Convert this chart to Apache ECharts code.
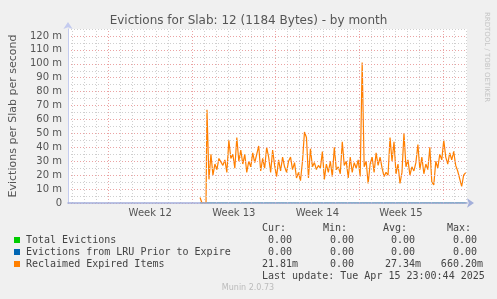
<!DOCTYPE html>
<html>
<head>
<meta charset="utf-8">
<script src="https://cdn.jsdelivr.net/npm/echarts@6/dist/echarts.min.js"></script>
<style>
html,body{margin:0;padding:0;background:#f0f0f0;}
#c{width:497px;height:299px;}
</style>
</head>
<body>
<div id="c"></div>
<script>
// ---- data ----
var title = 'Evictions for Slab: 12 (1184 Bytes) - by month';
var yAxisTitle = 'Evictions per Slab per second';
var weekLabels = ['Week 12', 'Week 13', 'Week 14', 'Week 15'];
var weekMidDays = [3.5, 10.5, 17.5, 24.5];          // days since Mon Mar 17 2025
var weekStartDays = [0, 7, 14, 21, 28];
var dayLines = [-3,-2,-1,1,2,3,4,5,6,8,9,10,11,12,13,15,16,17,18,19,20,22,23,24,25,26,27,29,30];
var yTicks = [0,10,20,30,40,50,60,70,80,90,100,110,120];

// leading fragment (days, milli-evictions/s)
var leadDays = [7.67, 7.83, 8.0, 8.17];
var leadVals = [4, 0, 0, 0];
// main samples, every 4 hours starting at day 8.25
var mainStartDay = 8.25;
var mainStepDays = 1 / 6;
var reclaimed = [67,17,35,20,28,24,32,33,27,31,22,45,32,35,25,47,30,38,28,35,
  22,30,26,36,29,35,41,23,32,25,40,33,22,38,27,19,31,23,33,26,
  22,30,33,24,29,18,22,16,30,51,47,18,39,26,29,24,27,25,37,17,
  28,22,30,19,40,24,26,21,44,27,30,18,33,22,29,25,31,19,101,26,
  30,14,28,33,22,36,27,33,25,19,22,20,47,30,44,21,28,14,22,50,
  26,31,20,26,23,29,42,24,33,21,28,24,40,15,13,30,25,35,31,45,
  33,28,36,31,37,27,23,22,12,20,21.81];

var legendNames = ['Total Evictions', 'Evictions from LRU Prior to Expire', 'Reclaimed Expired Items'];
var legendColors = ['#00cc00', '#0066b3', '#ff8000'];
var colHeaders = ['Cur:', 'Min:', 'Avg:', 'Max:'];
var curVals = ['0.00 ', '0.00 ', '21.81m'];
var minVals = ['0.00 ', '0.00 ', '0.00 '];
var avgVals = ['0.00 ', '0.00 ', '27.34m'];
var maxVals = ['0.00 ', '0.00 ', '660.20m'];
var lastUpdate = 'Last update: Tue Apr 15 23:00:44 2025';
var footer = 'Munin 2.0.73';
var sideText = 'RRDTOOL / TOBI OETIKER';

// ---- build series data ----
var reclaimedData = [];
var zeroData = [];
for (var i = 0; i < leadDays.length; i++) {
  reclaimedData.push([leadDays[i], leadVals[i]]);
  zeroData.push([leadDays[i], 0]);
}
for (var j = 0; j < reclaimed.length; j++) {
  var d = mainStartDay + j * mainStepDays;
  reclaimedData.push([d, reclaimed[j]]);
  zeroData.push([d, 0]);
}

var gridLineMarks = [];
dayLines.forEach(function (d) {
  gridLineMarks.push({xAxis: d, lineStyle: {color: '#cfcfcf', type: [1, 2], width: 1}});
});
weekStartDays.forEach(function (d) {
  gridLineMarks.push({xAxis: d, lineStyle: {color: '#eba3a3', type: [1, 2], width: 1}});
});

var chart = echarts.init(document.getElementById('c'), null, {renderer: 'canvas'});

var mono = 'DejaVu Sans Mono';
var graphics = [];
graphics.push({type: 'text', x: 487, y: 57, rotation: -Math.PI / 2,
  style: {text: sideText, font: '7px "DejaVu Sans"', fill: '#c4c4c4', align: 'center', verticalAlign: 'middle'}});
var colLeft = [262, 323, 383, 447];
colHeaders.forEach(function (h, k) {
  graphics.push({type: 'text', x: colLeft[k], y: 228,
    style: {text: h, font: '10px ' + mono, fill: '#444', verticalAlign: 'middle'}});
});
var colRight = [298, 360, 421, 483];
var rowsY = [240, 252, 264];
var cols = [curVals, minVals, avgVals, maxVals];
legendNames.forEach(function (n, r) {
  graphics.push({type: 'rect', shape: {x: 14, y: rowsY[r] - 3, width: 6, height: 6},
    style: {fill: legendColors[r]}});
  graphics.push({type: 'text', x: 26, y: rowsY[r],
    style: {text: n, font: '10px ' + mono, fill: '#444', verticalAlign: 'middle'}});
  cols.forEach(function (col, k) {
    graphics.push({type: 'text', x: colRight[k], y: rowsY[r],
      style: {text: col[r], font: '10px ' + mono, fill: '#444', align: 'right', verticalAlign: 'middle'}});
  });
});
graphics.push({type: 'text', x: 262, y: 276,
  style: {text: lastUpdate, font: '10px ' + mono, fill: '#444', verticalAlign: 'middle'}});
graphics.push({type: 'text', x: 248, y: 288,
  style: {text: footer, font: '8px "DejaVu Sans"', fill: '#bbbbbb', align: 'center', verticalAlign: 'middle'}});

chart.setOption({
  animation: false,
  backgroundColor: '#f0f0f0',
  title: {
    text: title, left: 'center', top: 10,
    textStyle: {fontFamily: 'DejaVu Sans', fontSize: 12, fontWeight: 'normal', color: '#555'}
  },
  grid: {left: 66, right: 30, top: 29, bottom: 96, show: true, backgroundColor: '#ffffff', borderWidth: 0},
  xAxis: {
    type: 'value', min: -3.39, max: 30.03, z: 10,
    axisLine: {show: true, onZero: false, lineStyle: {color: '#a3afdb', width: 1.6}, symbol: ['none', 'arrow'], symbolSize: [7, 7], symbolOffset: [0, 7]},
    axisTick: {show: false},
    splitLine: {show: false},
    axisLabel: {
      customValues: weekMidDays,
      margin: 5,
      fontFamily: 'DejaVu Sans', fontSize: 10, color: '#555',
      formatter: function (v) {
        var idx = weekMidDays.indexOf(v);
        return idx >= 0 ? weekLabels[idx] : '';
      }
    }
  },
  yAxis: {
    type: 'value', min: 0, max: 125, interval: 5, z: 10,
    name: yAxisTitle, nameLocation: 'middle', nameGap: 49,
    nameTextStyle: {fontFamily: 'DejaVu Sans', fontSize: 11, color: '#555'},
    axisLine: {show: true, onZero: false, lineStyle: {color: '#c4cbef', width: 1}, symbol: ['none', 'arrow'], symbolSize: [7, 7], symbolOffset: [0, 7]},
    axisTick: {show: false},
    splitLine: {show: true, lineStyle: {color: ['#eba3a3', '#cfcfcf'], type: [1, 2], width: 1}},
    axisLabel: {
      margin: 6,
      fontFamily: 'DejaVu Sans', fontSize: 10, color: '#555',
      formatter: function (v) {
        if (yTicks.indexOf(v) < 0) return '';
        return v === 0 ? '0' : v + ' m';
      }
    }
  },
  graphic: graphics,
  series: [
    {
      name: legendNames[0], type: 'line', data: zeroData, showSymbol: false, z: 1,
      lineStyle: {color: legendColors[0], width: 1},
      markLine: {silent: true, symbol: 'none', label: {show: false}, animation: false, data: gridLineMarks}
    },
    {
      name: legendNames[1], type: 'line', data: zeroData, showSymbol: false, z: 1,
      lineStyle: {color: legendColors[1], width: 1}
    },
    {
      name: legendNames[2], type: 'line', data: reclaimedData, showSymbol: false, z: 5,
      lineStyle: {color: '#ff7f00', width: 1.2}
    }
  ]
});
</script>
</body>
</html>
